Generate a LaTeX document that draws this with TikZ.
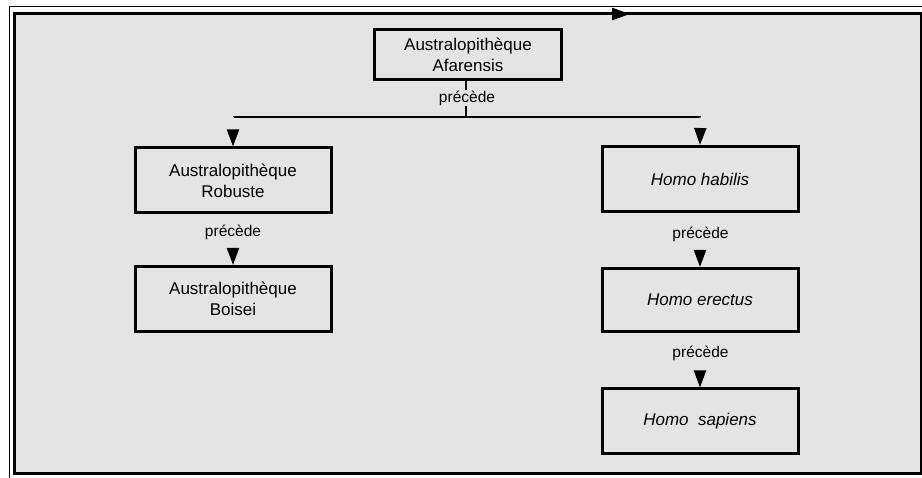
\documentclass[tikz,border=0pt]{standalone}
\usepackage{fontspec}
\setmainfont{Liberation Sans}
\usetikzlibrary{arrows.meta}
\definecolor{panel}{RGB}{228,228,228}
\tikzset{
  stagebox/.style={draw=black, line width=3pt, fill=panel, align=center,
    font=\fontsize{17}{21}\selectfont, inner sep=0pt},
  wide/.style={minimum width=196pt, minimum height=65pt},
  steplabel/.style={font=\fontsize{15.5}{18}\selectfont, inner sep=1pt},
  tipline/.style={draw=panel, line width=2pt,
    -{Triangle[length=17pt,width=12pt,color=black,fill=black]}},
  barline/.style={draw=black, line width=2pt}
}
\begin{document}
\begin{tikzpicture}[x=1pt, y=-1pt]
  \useasboundingbox (0,0) rectangle (922,478);
  \fill[white] (0,0) rectangle (922,478);

  % outer frame and shaded panel
  \draw[line width=1pt] (922,7) -- (9,7) -- (9,478);
  \draw[line width=2.6pt, fill=panel] (14.5,13.5) rectangle (921,473.5);
  \coordinate (topA) at (596,14);
  \coordinate (topB) at (630,14);
  \draw[line width=2.6pt, -{Triangle[length=18pt,width=12pt]}] (topA) -- (topB);

  % stages
  \node[stagebox, minimum width=187pt, minimum height=50pt] (afar) at (468,54.5)
    {Australopithèque\\Afarensis};
  \node[stagebox, wide] (rob) at (233,180.5) {Australopithèque\\Robuste};
  \node[stagebox, wide] (boi) at (233,299) {Australopithèque\\Boisei};
  \node[stagebox, wide] (hab) at (700,179) {\itshape Homo habilis};
  \node[stagebox, wide, minimum height=63pt] (ere) at (700,300) {\itshape Homo erectus};
  \node[stagebox, wide] (sap) at (700,421.5) {\itshape Homo\ \ sapiens};

  % branching from Afarensis
  \coordinate (barL) at (233,117.5);
  \coordinate (barM) at (466,117.5);
  \coordinate (barR) at (700.5,117.5);
  \draw[barline] (afar.south -| barM) -- (barM);
  \draw[barline] (barL) -- (barR);
  \node[steplabel, fill=panel] (l0) at (467,98) {précède};
  \draw[tipline] (barL) -- (rob.north);
  \draw[tipline] (barR) -- (hab.north);

  % left line of descent
  \draw[tipline] (rob.south) -- (boi.north);
  \node[steplabel] (l1) at (233,232) {précède};

  % right line of descent
  \draw[tipline] (hab.south) -- (ere.north);
  \node[steplabel] (l2) at (700.5,234) {précède};
  \draw[tipline] (ere.south) -- (sap.north);
  \node[steplabel] (l3) at (700.5,353.5) {précède};
\end{tikzpicture}
\end{document}
